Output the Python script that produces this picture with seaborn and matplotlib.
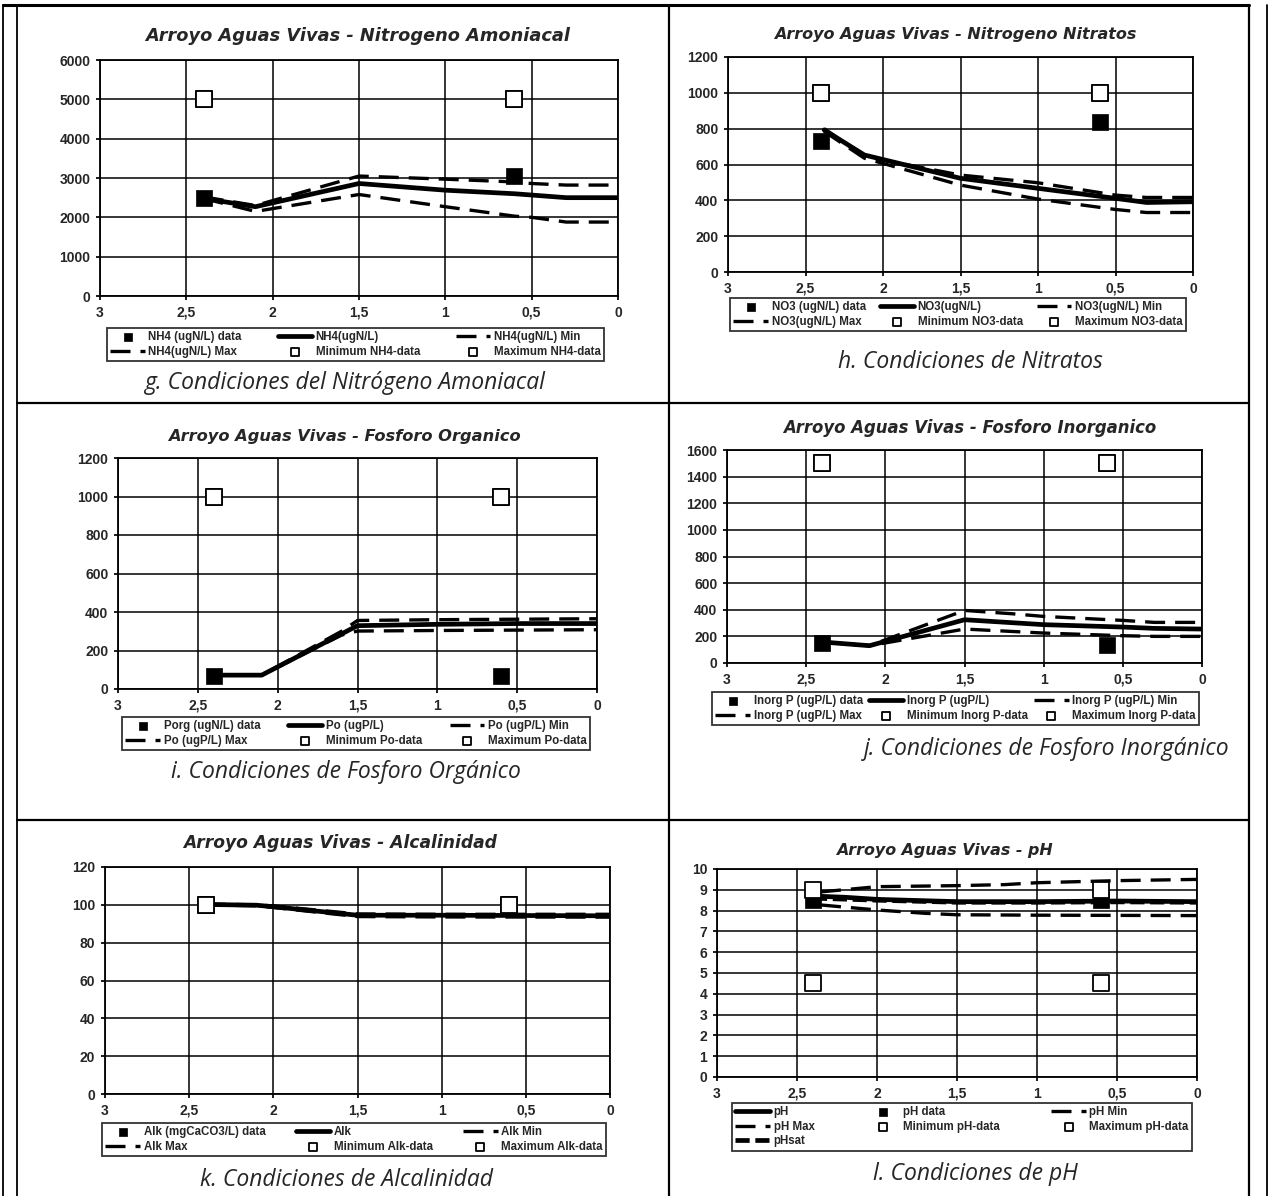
import numpy as np
import pandas as pd
import matplotlib
matplotlib.use("Agg")
import matplotlib.pyplot as plt
import seaborn as sns
from matplotlib.lines import Line2D

sns.set_theme(style="white")
plt.rcParams['font.family'] = ['Liberation Sans', 'DejaVu Sans']

# ---------------- DATA ----------------
x_ticks = [3, 2.5, 2, 1.5, 1, 0.5, 0]
x_tick_labels = ["3", "2,5", "2", "1,5", "1", "0,5", "0"]

# g. Nitrogeno Amoniacal
g_main_x = [2.4, 2.1, 1.5, 1.0, 0.6, 0.3, 0.0]
g_main_y = [2480, 2270, 2860, 2690, 2600, 2500, 2500]
g_max_x = [2.4, 2.1, 1.5, 1.0, 0.6, 0.5, 0.3, 0.0]
g_max_y = [2520, 2300, 3050, 2970, 2900, 2860, 2820, 2820]
g_min_x = [2.4, 2.1, 1.5, 1.0, 0.6, 0.5, 0.3, 0.0]
g_min_y = [2480, 2150, 2580, 2270, 2030, 2000, 1880, 1880]
g_data_y = [2500, 3050]
g_mindata_y = [5000, 5000]
g_maxdata_y = [5000, 5000]

# h. Nitratos
h_main_x = [2.38, 2.12, 1.5, 1.0, 0.5, 0.3, 0.0]
h_main_y = [793, 653, 523, 467, 411, 388, 392]
h_max_x = [2.38, 2.12, 1.5, 1.0, 0.5, 0.3, 0.0]
h_max_y = [800, 645, 541, 498, 429, 416, 416]
h_min_x = [2.38, 2.12, 1.5, 1.0, 0.5, 0.3, 0.0]
h_min_y = [785, 635, 485, 407, 349, 332, 332]
h_data_y = [733, 840]
h_mindata_y = [1000, 1000]
h_maxdata_y = [1000, 1000]

# i. Fosforo Organico
i_main_x = [2.4, 2.1, 1.5, 1.0, 0.5, 0.0]
i_main_y = [72, 72, 329, 336, 340, 340]
i_max_x = [2.4, 2.1, 1.6, 1.5, 1.0, 0.0]
i_max_y = [72, 72, 300, 356, 360, 365]
i_min_x = [2.4, 2.1, 1.6, 1.5, 1.0, 0.0]
i_min_y = [72, 72, 280, 301, 304, 308]
i_data_y = [67, 67]
i_mindata_y = [1000, 1000]
i_maxdata_y = [1000, 1000]

# j. Fosforo Inorganico
j_main_x = [2.4, 2.1, 1.5, 1.0, 0.5, 0.3, 0.0]
j_main_y = [158, 130, 325, 288, 270, 260, 255]
j_max_x = [2.4, 2.1, 1.5, 1.2, 1.0, 0.5, 0.3, 0.0]
j_max_y = [158, 130, 395, 370, 350, 320, 305, 305]
j_min_x = [2.4, 2.1, 1.5, 1.0, 0.5, 0.3, 0.0]
j_min_y = [158, 130, 255, 225, 205, 200, 200]
j_data_y = [150, 137]
j_mindata_y = [1500, 1500]
j_maxdata_y = [1500, 1500]

# k. Alcalinidad
k_main_x = [2.4, 2.1, 2.0, 1.5, 1.0, 0.0]
k_main_y = [100.2, 99.8, 99.0, 94.5, 94.5, 94.2]
k_max_x = [2.4, 2.1, 2.0, 1.5, 1.0, 0.0]
k_max_y = [100.4, 100.0, 99.4, 95.2, 95.0, 95.0]
k_min_x = [2.4, 2.1, 2.0, 1.5, 1.0, 0.0]
k_min_y = [100.0, 99.5, 98.6, 93.8, 93.6, 93.5]
k_data_y = [100, 100]
k_mindata_y = [100, 100]
k_maxdata_y = [100, 100]

# l. pH
l_main_x = [2.4, 2.2, 2.0, 1.5, 1.0, 0.5, 0.0]
l_main_y = [8.70, 8.64, 8.54, 8.43, 8.43, 8.46, 8.43]
l_max_x = [2.35, 2.0, 1.5, 1.2, 1.0, 0.5, 0.0]
l_max_y = [8.90, 9.15, 9.20, 9.25, 9.34, 9.44, 9.50]
l_min_x = [2.35, 2.0, 1.7, 1.5, 1.0, 0.0]
l_min_y = [8.27, 8.03, 7.87, 7.80, 7.78, 7.76]
l_sat_x = [2.4, 2.0, 1.5, 1.0, 0.5, 0.0]
l_sat_y = [8.60, 8.50, 8.40, 8.40, 8.42, 8.40]
l_data_y = [8.5, 8.5]
l_mindata_y = [4.5, 4.5]
l_maxdata_y = [9.0, 9.0]

square_x = [2.4, 0.6]

# ---------------- FIGURE ----------------
W, H = 1271, 1196
fig = plt.figure(figsize=(W / 100, H / 100), dpi=100)
fig.patch.set_facecolor("white")


def fx(px):
    return px / W


def fy(py):
    return 1 - py / H


def hline(y, x0, x1, lw=1.5):
    fig.add_artist(Line2D([fx(x0), fx(x1)], [fy(y), fy(y)], transform=fig.transFigure,
                          color="black", lw=lw))


def vline(x, y0, y1, lw=1.5):
    fig.add_artist(Line2D([fx(x), fx(x)], [fy(y0), fy(y1)], transform=fig.transFigure,
                          color="black", lw=lw))


# table borders
hline(5, 3, 1249, 2.2)
hline(403, 17, 1249, 1.6)
hline(820, 17, 1249, 1.6)
vline(3, 5, 1196, 1.3)
vline(17, 5, 1196, 1.3)
vline(669, 5, 1196, 1.6)
vline(1249, 5, 1196, 1.6)
vline(1267, 5, 1196, 1.3)

MAIN = dict(color="black", lw=3.4, linestyle="-")
DASH = dict(color="black", lw=2.4, linestyle=(0, (6, 3)))
SAT = dict(color="black", lw=3.4, linestyle=(0, (3, 1.2)))


def panel(rect, title, title_xy, title_size, ymax, ystep, lines, data_y, min_y, max_y,
          labels, order, leg_rect, caption, cap_xy):
    L, R, T, B = rect
    ax = fig.add_axes([fx(L), fy(B), fx(R) - fx(L), fy(T) - fy(B)])
    ax.set_facecolor("white")
    for (xs, ys, st, lab) in lines:
        df = pd.DataFrame({"x": xs, "y": ys})
        sns.lineplot(data=df, x="x", y="y", ax=ax, legend=False, label=lab,
                     sort=False, **st)
    d = pd.DataFrame({"x": square_x, "data": data_y, "mn": min_y, "mx": max_y})
    sns.scatterplot(data=d, x="x", y="data", ax=ax, marker="s", s=130, color="black",
                    edgecolor="black", linewidth=0.5, legend=False, label=labels["data"], zorder=5)
    sns.scatterplot(data=d, x="x", y="mn", ax=ax, marker="s", s=140, color="white",
                    edgecolor="black", linewidth=1.3, legend=False, label=labels["min"], zorder=6)
    sns.scatterplot(data=d, x="x", y="mx", ax=ax, marker="s", s=140, color="white",
                    edgecolor="black", linewidth=1.3, legend=False, label=labels["max"], zorder=6)
    ax.set_xlim(3, 0)
    ax.set_ylim(0, ymax)
    ax.set_xticks(x_ticks)
    ax.set_xticklabels(x_tick_labels)
    yt = np.arange(0, ymax + ystep / 2, ystep)
    ax.set_yticks(yt)
    ax.set_yticklabels([f"{int(v)}" for v in yt])
    ax.grid(True, color="black", lw=1.1)
    ax.set_axisbelow(True)
    for sp in ax.spines.values():
        sp.set_color("black")
        sp.set_linewidth(1.3)
    ax.tick_params(axis="both", labelsize=10, length=3, color="black", direction="out",
                   pad=4, bottom=True, left=True)
    for t in ax.get_xticklabels() + ax.get_yticklabels():
        t.set_fontweight("bold")
    ax.set_xlabel("")
    ax.set_ylabel("")
    fig.text(fx(title_xy[0]), fy(title_xy[1]), title, ha="center", va="center",
             fontsize=title_size, fontweight="bold", fontstyle="italic", family="DejaVu Sans")
    handles, labs = ax.get_legend_handles_labels()
    hmap = dict(zip(labs, handles))
    ordered = [hmap[k] for k in order]
    lx0, lx1, ly0, ly1 = leg_rect
    leg = ax.legend(ordered, order, ncol=3, mode="expand", loc="upper left",
                    bbox_to_anchor=(fx(lx0), fy(ly1), fx(lx1) - fx(lx0), fy(ly0) - fy(ly1)),
                    bbox_transform=fig.transFigure, frameon=True, fancybox=False,
                    prop=dict(size=8.3, weight="bold"), borderpad=0.3, labelspacing=0.2,
                    handlelength=3.0, handletextpad=0.3, borderaxespad=0, markerscale=0.45,
                    columnspacing=0.5)
    leg.get_frame().set_edgecolor("black")
    leg.get_frame().set_linewidth(1.3)
    fig.text(fx(cap_xy[0]), fy(cap_xy[1]), caption, ha="center", va="center",
             fontsize=16.5, fontstyle="italic", family="Open Sans")
    return ax


# g
lab = {"data": "NH4 (ugN/L) data", "min": "Minimum NH4-data", "max": "Maximum NH4-data"}
panel((100, 618, 60, 296), "Arroyo Aguas Vivas - Nitrogeno Amoniacal", (358, 36), 12.8, 6000, 1000,
      [(g_main_x, g_main_y, MAIN, "NH4(ugN/L)"),
       (g_max_x, g_max_y, DASH, "NH4(ugN/L) Max"),
       (g_min_x, g_min_y, DASH, "NH4(ugN/L) Min")],
      g_data_y, g_mindata_y, g_maxdata_y, lab,
      ["NH4 (ugN/L) data", "NH4(ugN/L) Max", "NH4(ugN/L)", "Minimum NH4-data",
       "NH4(ugN/L) Min", "Maximum NH4-data"],
      (107, 604, 328, 360), "g. Condiciones del Nitrógeno Amoniacal", (344, 383))

# h
lab = {"data": "NO3 (ugN/L) data", "min": "Minimum NO3-data", "max": "Maximum NO3-data"}
panel((728, 1193, 57, 272), "Arroyo Aguas Vivas - Nitrogeno Nitratos", (955, 35), 11.5, 1200, 200,
      [(h_main_x, h_main_y, MAIN, "NO3(ugN/L)"),
       (h_max_x, h_max_y, DASH, "NO3(ugN/L) Max"),
       (h_min_x, h_min_y, DASH, "NO3(ugN/L) Min")],
      h_data_y, h_mindata_y, h_maxdata_y, lab,
      ["NO3 (ugN/L) data", "NO3(ugN/L) Max", "NO3(ugN/L)", "Minimum NO3-data",
       "NO3(ugN/L) Min", "Maximum NO3-data"],
      (730, 1186, 298, 328), "h. Condiciones de Nitratos", (970, 362))

# i
lab = {"data": "Porg (ugN/L) data", "min": "Minimum Po-data", "max": "Maximum Po-data"}
panel((118, 597, 458, 689), "Arroyo Aguas Vivas - Fosforo Organico", (344, 436), 11.7, 1200, 200,
      [(i_main_x, i_main_y, MAIN, "Po (ugP/L)"),
       (i_max_x, i_max_y, DASH, "Po (ugP/L) Max"),
       (i_min_x, i_min_y, DASH, "Po (ugP/L) Min")],
      i_data_y, i_mindata_y, i_maxdata_y, lab,
      ["Porg (ugN/L) data", "Po (ugP/L) Max", "Po (ugP/L)", "Minimum Po-data",
       "Po (ugP/L) Min", "Maximum Po-data"],
      (122, 590, 717, 750), "i. Condiciones de Fosforo Orgánico", (346, 772))

# j
lab = {"data": "Inorg P (ugP/L) data", "min": "Minimum Inorg P-data", "max": "Maximum Inorg P-data"}
panel((727, 1202, 450, 663), "Arroyo Aguas Vivas - Fosforo Inorganico", (970, 428), 11.9, 1600, 200,
      [(j_main_x, j_main_y, MAIN, "Inorg P (ugP/L)"),
       (j_max_x, j_max_y, DASH, "Inorg P (ugP/L) Max"),
       (j_min_x, j_min_y, DASH, "Inorg P (ugP/L) Min")],
      j_data_y, j_mindata_y, j_maxdata_y, lab,
      ["Inorg P (ugP/L) data", "Inorg P (ugP/L) Max", "Inorg P (ugP/L)", "Minimum Inorg P-data",
       "Inorg P (ugP/L) Min", "Maximum Inorg P-data"],
      (712, 1199, 692, 723), "j. Condiciones de Fosforo Inorgánico", (1047, 749))

# k
lab = {"data": "Alk (mgCaCO3/L) data", "min": "Minimum Alk-data", "max": "Maximum Alk-data"}
panel((105, 610, 867, 1094), "Arroyo Aguas Vivas - Alcalinidad", (340, 843), 12.3, 120, 20,
      [(k_main_x, k_main_y, MAIN, "Alk"),
       (k_max_x, k_max_y, DASH, "Alk Max"),
       (k_min_x, k_min_y, DASH, "Alk Min")],
      k_data_y, k_mindata_y, k_maxdata_y, lab,
      ["Alk (mgCaCO3/L) data", "Alk Max", "Alk", "Minimum Alk-data",
       "Alk Min", "Maximum Alk-data"],
      (102, 606, 1123, 1156), "k. Condiciones de Alcalinidad", (347, 1180))

# l
lab = {"data": "pH data", "min": "Minimum pH-data", "max": "Maximum pH-data"}
panel((717, 1197, 869, 1077), "Arroyo Aguas Vivas - pH", (944, 850), 11.4, 10, 1,
      [(l_main_x, l_main_y, MAIN, "pH"),
       (l_max_x, l_max_y, DASH, "pH Max"),
       (l_min_x, l_min_y, DASH, "pH Min"),
       (l_sat_x, l_sat_y, SAT, "pHsat")],
      l_data_y, l_mindata_y, l_maxdata_y, lab,
      ["pH", "pH Max", "pHsat", "pH data", "Minimum pH-data", "pH Min", "Maximum pH-data"],
      (732, 1192, 1103, 1145), "l. Condiciones de pH", (975, 1174))

fig.savefig("out.png", dpi=100, facecolor="white")
